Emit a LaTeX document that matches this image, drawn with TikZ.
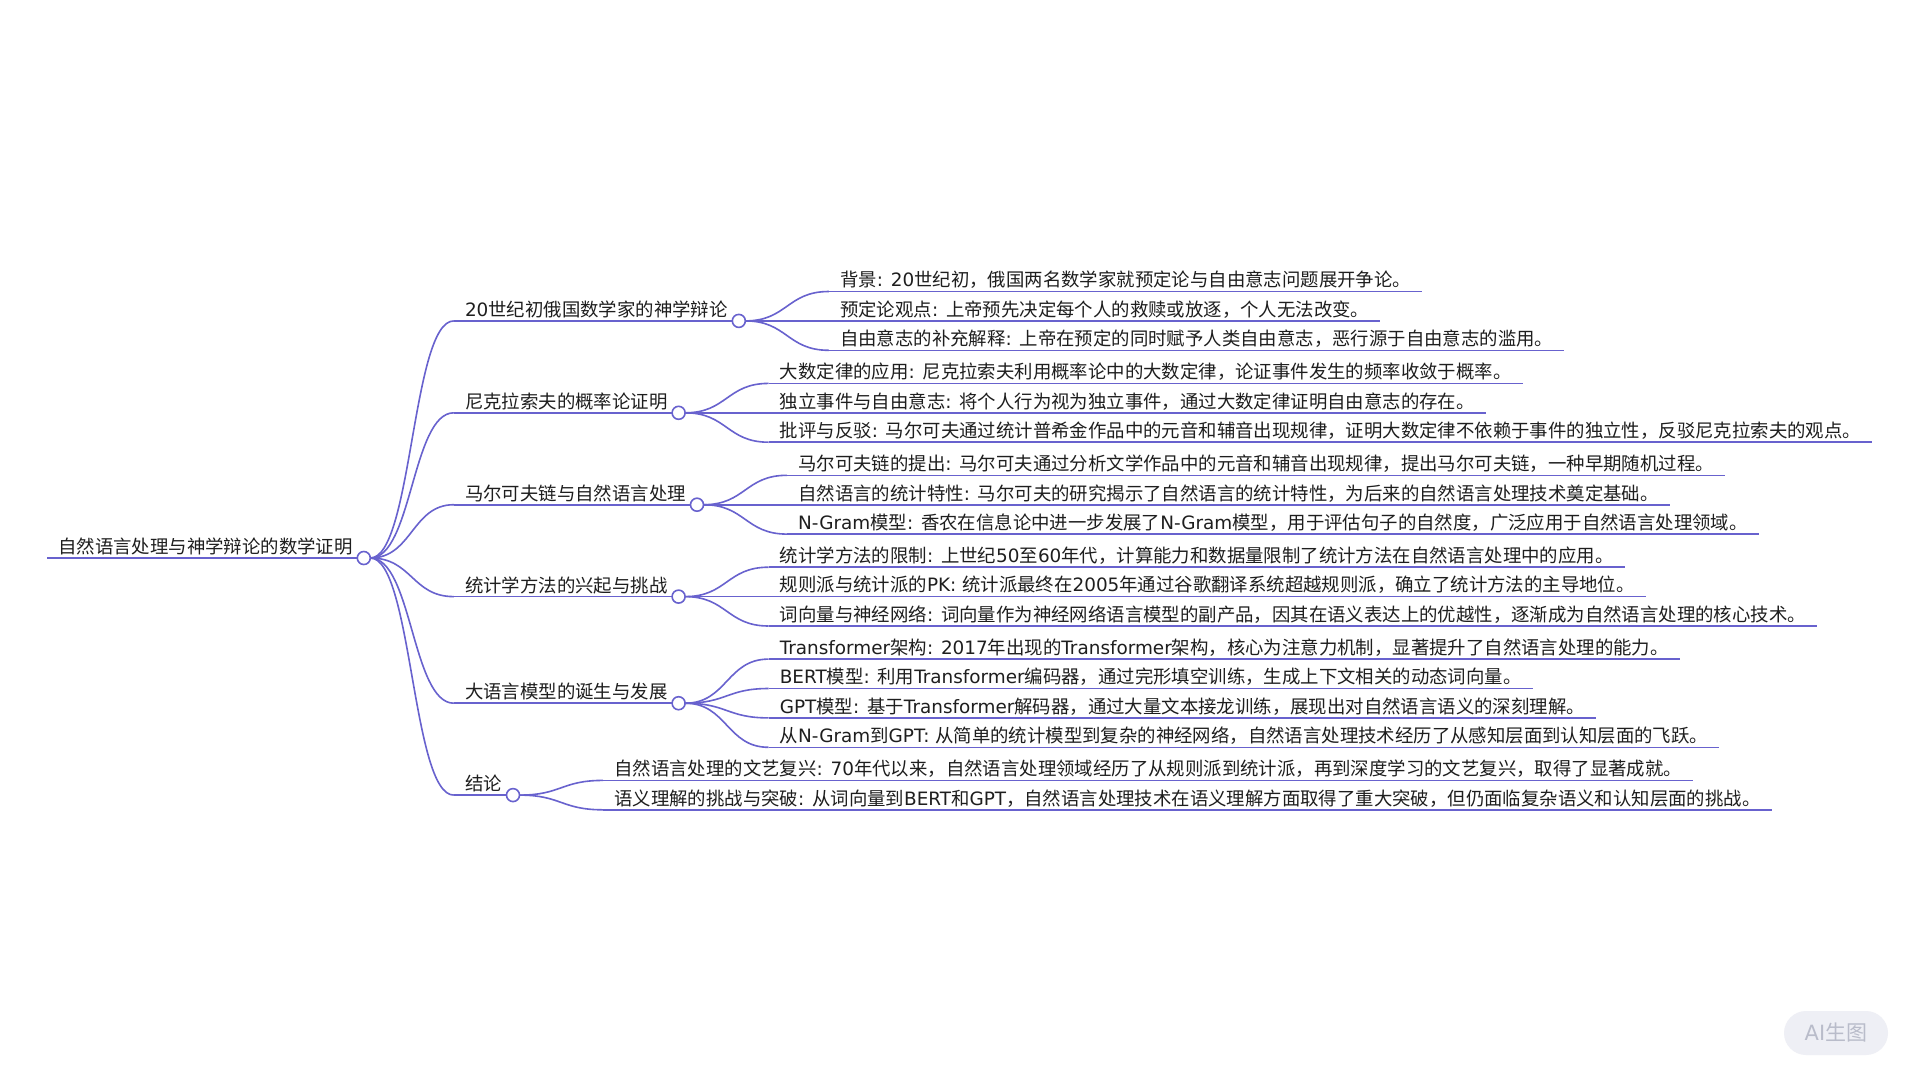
\documentclass[tikz,border=0pt]{standalone}
\usepackage{fontspec}
\setmainfont{Noto Sans CJK SC}
\newfontfamily\latf{DejaVu Sans}
\usetikzlibrary{calc}
\newcommand\la[1]{{\latf #1}}
\definecolor{lc}{RGB}{104,98,206}
\definecolor{tc}{RGB}{30,30,30}
\definecolor{wmbg}{RGB}{238,239,245}
\definecolor{wmtx}{RGB}{185,188,202}
\tikzset{
  base/.style={font=\fontsize{18.4}{22}\selectfont, text=tc, inner xsep=11pt, inner ysep=2.5pt, anchor=south west},
  ln/.style={draw=lc, line width=1.6pt},
  dot/.style={circle, draw=lc, fill=white, line width=1.6pt, minimum size=13pt, inner sep=0pt},
}
% #1 name, #2 parent, #3 y of underline, #4 text
\newcommand\kid[4]{%
  \node[base, xshift=90pt] (#1) at (c#2 |- 0,#3) {#4};
  \draw[ln] (#1.south west) -- (#1.south east);
  \coordinate (mm) at ($(o#2)!0.5!(#1.south west)$);
  \draw[ln] (o#2) .. controls (mm |- o#2) and (mm |- #1.south west) .. (#1.south west);
  \coordinate (c#1) at (#1.south east);
  \coordinate (o#1) at ($(c#1)+(6.5,0)$);
}
\begin{document}
\begin{tikzpicture}[x=1pt,y=-1pt]
\fill[white] (0,0) rectangle (1920,1080);
% root
\node[base] (R) at (47,558) {自然语言处理与神学辩论的数学证明};
\draw[ln] (R.south west) -- (R.south east);
\coordinate (cR) at (R.south east);
\coordinate (oR) at ($(cR)+(6.5,0)$);
% level 1
\kid{A}{R}{320.9}{\la{20}世纪初俄国数学家的神学辩论}
\kid{B}{R}{412.8}{尼克拉索夫的概率论证明}
\kid{C}{R}{504.7}{马尔可夫链与自然语言处理}
\kid{D}{R}{596.6}{统计学方法的兴起与挑战}
\kid{E}{R}{703.2}{大语言模型的诞生与发展}
\kid{F}{R}{795.1}{结论}
% leaves
\kid{A1}{A}{291.5}{背景\la{: 20}世纪初，俄国两名数学家就预定论与自由意志问题展开争论。}
\kid{A2}{A}{320.9}{预定论观点\la{: }上帝预先决定每个人的救赎或放逐，个人无法改变。}
\kid{A3}{A}{350.3}{自由意志的补充解释\la{: }上帝在预定的同时赋予人类自由意志，恶行源于自由意志的滥用。}
\kid{B1}{B}{383.4}{大数定律的应用\la{: }尼克拉索夫利用概率论中的大数定律，论证事件发生的频率收敛于概率。}
\kid{B2}{B}{412.8}{独立事件与自由意志\la{: }将个人行为视为独立事件，通过大数定律证明自由意志的存在。}
\kid{B3}{B}{442.2}{批评与反驳\la{: }马尔可夫通过统计普希金作品中的元音和辅音出现规律，证明大数定律不依赖于事件的独立性，反驳尼克拉索夫的观点。}
\kid{C1}{C}{475.3}{马尔可夫链的提出\la{: }马尔可夫通过分析文学作品中的元音和辅音出现规律，提出马尔可夫链，一种早期随机过程。}
\kid{C2}{C}{504.7}{自然语言的统计特性\la{: }马尔可夫的研究揭示了自然语言的统计特性，为后来的自然语言处理技术奠定基础。}
\kid{C3}{C}{534.1}{\la{N-Gram}模型\la{: }香农在信息论中进一步发展了\la{N-Gram}模型，用于评估句子的自然度，广泛应用于自然语言处理领域。}
\kid{D1}{D}{567.2}{统计学方法的限制\la{: }上世纪\la{50}至\la{60}年代，计算能力和数据量限制了统计方法在自然语言处理中的应用。}
\kid{D2}{D}{596.6}{规则派与统计派的\la{PK: }统计派最终在\la{2005}年通过谷歌翻译系统超越规则派，确立了统计方法的主导地位。}
\kid{D3}{D}{626.0}{词向量与神经网络\la{: }词向量作为神经网络语言模型的副产品，因其在语义表达上的优越性，逐渐成为自然语言处理的核心技术。}
\kid{E1}{E}{659.1}{\la{Transformer}架构\la{: 2017}年出现的\la{Transformer}架构，核心为注意力机制，显著提升了自然语言处理的能力。}
\kid{E2}{E}{688.5}{\la{BERT}模型\la{: }利用\la{Transformer}编码器，通过完形填空训练，生成上下文相关的动态词向量。}
\kid{E3}{E}{717.9}{\la{GPT}模型\la{: }基于\la{Transformer}解码器，通过大量文本接龙训练，展现出对自然语言语义的深刻理解。}
\kid{E4}{E}{747.3}{从\la{N-Gram}到\la{GPT: }从简单的统计模型到复杂的神经网络，自然语言处理技术经历了从感知层面到认知层面的飞跃。}
\kid{F1}{F}{780.4}{自然语言处理的文艺复兴\la{: 70}年代以来，自然语言处理领域经历了从规则派到统计派，再到深度学习的文艺复兴，取得了显著成就。}
\kid{F2}{F}{809.8}{语义理解的挑战与突破\la{: }从词向量到\la{BERT}和\la{GPT}，自然语言处理技术在语义理解方面取得了重大突破，但仍面临复杂语义和认知层面的挑战。}
% circles
\foreach \n in {R,A,B,C,D,E,F} \node[dot] at (c\n) {};
% watermark
\node[rounded corners=22pt, fill=wmbg, minimum width=104pt, minimum height=44pt, text=wmtx, font=\fontsize{21}{24}\selectfont, inner sep=0pt] (wm) at (1836,1033) {\la{AI}生图};
\end{tikzpicture}
\end{document}
